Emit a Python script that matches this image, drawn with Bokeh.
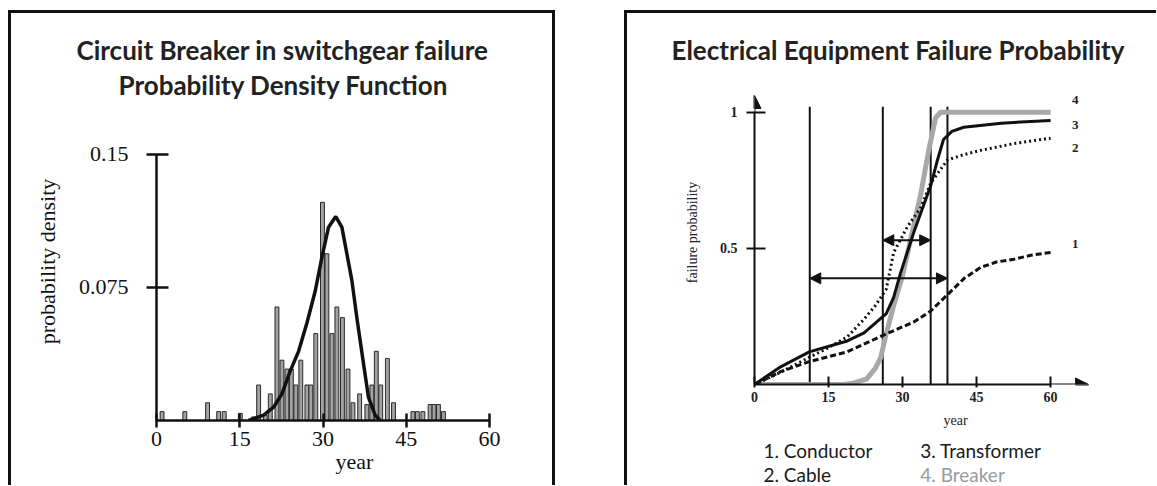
from bokeh.plotting import figure
from bokeh.models import Range1d, FixedTicker, Label, Arrow, NormalHead, Title, Spacer
from bokeh.layouts import row, column
from bokeh.embed import file_html
from bokeh.resources import INLINE

# ---------------- data: left chart (histogram + fitted density) ----------------
hist_year = [1.0, 5.1, 9.2, 11.2, 12.2, 15.1, 17.5, 18.4, 19.6, 20.5, 21.7, 22.6, 23.5, 24.3,
             25.1, 26.0, 27.1, 27.8, 28.7, 29.9, 30.7, 31.6, 32.5, 33.5, 34.5, 35.4, 36.6,
             37.9, 38.8, 39.6, 40.4, 41.6, 42.7, 46.2, 47.0, 48.0, 49.3, 50.0, 50.8, 51.7]
hist_density = [0.005, 0.005, 0.010, 0.005, 0.005, 0.004, 0.002, 0.020, 0.003, 0.015, 0.064,
                0.034, 0.029, 0.029, 0.020, 0.034, 0.020, 0.020, 0.049, 0.123, 0.094, 0.049,
                0.064, 0.058, 0.029, 0.010, 0.015, 0.009, 0.020, 0.039, 0.020, 0.035, 0.010,
                0.005, 0.005, 0.005, 0.009, 0.009, 0.009, 0.005]
pdf_year = [16.6, 19.3, 21.1, 22.6, 24.1, 25.6, 27.1, 28.6, 29.8, 31.0, 32.3, 33.4, 34.3,
            35.2, 36.1, 37.3, 38.2, 39.4, 40.3]
pdf_density = [0.0, 0.003, 0.0075, 0.015, 0.028, 0.039, 0.055, 0.073, 0.092, 0.109, 0.115,
               0.109, 0.094, 0.079, 0.058, 0.032, 0.013, 0.003, 0.0]
left_x_ticks = [0, 15, 30, 45, 60]
left_y_ticks = [0.075, 0.15]
left_y_labels = ["0.075", "0.15"]
left_title = ["Circuit Breaker in switchgear failure", "Probability Density Function"]

# ---------------- data: right chart (failure probability curves) ----------------
conductor_year = [0, 5.3, 11.1, 18.8, 26.7, 32.3, 35.7, 39.1, 42.5, 45.8, 49.0, 52.6, 56.0, 60]
conductor_prob = [0, 0.047, 0.084, 0.12, 0.186, 0.23, 0.27, 0.33, 0.39, 0.43, 0.45, 0.46, 0.475, 0.485]
cable_year = [0, 5.3, 11.1, 15.0, 18.8, 22.2, 24.5, 26.7, 28.2, 31.0, 33.7, 35.7, 39.1, 42.5, 45.8, 52.6, 60]
cable_prob = [0, 0.045, 0.10, 0.135, 0.175, 0.24, 0.29, 0.35, 0.485, 0.58, 0.65, 0.74, 0.825, 0.845, 0.86, 0.885, 0.905]
transformer_year = [0, 5.3, 11.1, 18.8, 22.2, 26.7, 28.2, 29.6, 32.3, 35.7, 37.0, 38.3, 40.0, 42.4, 50.0, 60]
transformer_prob = [0, 0.065, 0.12, 0.16, 0.19, 0.26, 0.32, 0.41, 0.56, 0.73, 0.82, 0.9, 0.93, 0.945, 0.96, 0.97]
breaker_year = [0, 18.0, 20.0, 22.7, 24.5, 25.6, 26.6, 28.2, 30.0, 31.6, 33.7, 35.3, 36.7, 37.7, 60]
breaker_prob = [0, 0, 0.005, 0.02, 0.06, 0.1, 0.18, 0.29, 0.4, 0.53, 0.7, 0.86, 0.98, 1.0, 1.0]
threshold_year = [11.2, 26.0, 35.7, 39.1]
interval_short = [26.0, 35.7, 0.53]   # start year, end year, level
interval_long = [11.2, 39.1, 0.39]
right_x_ticks = [0, 15, 30, 45, 60]
right_y_ticks = [0.5, 1]
right_y_labels = ["0.5", "1"]
right_title = "Electrical Equipment Failure Probability"
legend_items = ["1. Conductor", "2. Cable", "3. Transformer", "4. Breaker"]
curve_tags = ["1", "2", "3", "4"]
curve_tag_y = [0.515, 0.869, 0.953, 1.044]

SERIF = "Liberation Serif"
SANS = "Lato"
INK = "#111111"

shadow_lr = {"box-shadow": "inset 3px 0 0 #111, inset -3px 0 0 #111, inset 0 3px 0 #111"}
shadow_lt = {"box-shadow": "inset 3px 0 0 #111, inset 0 3px 0 #111"}
shadow_l = {"box-shadow": "inset 3px 0 0 #111"}


def clean(p):
    p.grid.visible = False
    p.outline_line_color = None
    p.background_fill_color = None
    p.border_fill_color = None


# ================= left figure =================
p1 = figure(width=547, height=475, x_range=Range1d(0, 71.35), y_range=Range1d(0, 0.1793),
            output_backend="svg", toolbar_location=None,
            min_border_left=148, min_border_right=3, min_border_top=92, min_border_bottom=65,
            styles=shadow_lr)
clean(p1)

p1.vbar(x=hist_year, top=hist_density, width=0.7, bottom=0,
        fill_color="#a2a2a2", line_color="#2a2a2a", line_width=1)
p1.line(pdf_year, pdf_density, line_color=INK, line_width=3.5)

for ax in (p1.xaxis[0], p1.yaxis[0]):
    ax.axis_line_width = 2.5
    ax.axis_line_color = INK
    ax.major_tick_line_width = 2.5
    ax.major_tick_line_color = INK
    ax.minor_tick_line_color = None
    ax.major_label_text_font = SERIF
    ax.major_label_text_font_size = "22px"
    ax.major_label_text_color = INK
    ax.axis_label_text_font = SERIF
    ax.axis_label_text_font_size = "22px"
    ax.axis_label_text_font_style = "normal"
    ax.axis_label_text_color = INK

xa = p1.xaxis[0]
xa.bounds = (0, 60)
xa.ticker = FixedTicker(ticks=left_x_ticks)
xa.major_tick_in = 7
xa.major_tick_out = 7
xa.major_label_standoff = 4
xa.axis_label = "year"
xa.axis_label_standoff = 0

ya = p1.yaxis[0]
ya.bounds = (0, 0.15)
ya.ticker = FixedTicker(ticks=left_y_ticks)
ya.major_label_overrides = dict(zip(left_y_ticks, left_y_labels))
ya.major_tick_in = 12
ya.major_tick_out = 10
ya.major_label_standoff = 18
ya.axis_label = "probability density"
ya.axis_label_standoff = 16

# nearest title first (second line), then the first line above it
p1.add_layout(Title(text=left_title[1], align="left", offset=-38, standoff=3,
                    text_font=SANS, text_font_style="bold", text_font_size="26px",
                    text_color="#222222"), "above")
p1.add_layout(Title(text=left_title[0], align="left", offset=-80, standoff=0,
                    text_font=SANS, text_font_style="bold", text_font_size="26px",
                    text_color="#222222"), "above")

# ================= right figure =================
p2 = figure(width=532, height=420, x_range=Range1d(0, 81.46), y_range=Range1d(0, 1.1168),
            output_backend="svg", toolbar_location=None,
            min_border_left=130, min_border_right=0, min_border_top=70, min_border_bottom=44,
            styles=shadow_lt)
clean(p2)

p2.segment(x0=threshold_year, y0=[0] * len(threshold_year), x1=threshold_year,
           y1=[1.02] * len(threshold_year), line_color=INK, line_width=2)

p2.line(breaker_year, breaker_prob, line_color="#a8a8a8", line_width=5)
p2.line(transformer_year, transformer_prob, line_color=INK, line_width=3)
p2.line(cable_year, cable_prob, line_color=INK, line_width=3, line_dash="2 3")
p2.line(conductor_year, conductor_prob, line_color=INK, line_width=3, line_dash="6 3")

for iv in (interval_short, interval_long):
    p2.add_layout(Arrow(start=NormalHead(size=11, fill_color=INK, line_color=INK),
                        end=NormalHead(size=11, fill_color=INK, line_color=INK),
                        x_start=iv[0], x_end=iv[1], y_start=iv[2], y_end=iv[2],
                        line_color=INK, line_width=2))

for ax in (p2.xaxis[0], p2.yaxis[0]):
    ax.axis_line_width = 2
    ax.axis_line_color = INK
    ax.major_tick_line_width = 2
    ax.major_tick_line_color = INK
    ax.minor_tick_line_color = None
    ax.major_label_text_font = SERIF
    ax.major_label_text_font_size = "14px"
    ax.major_label_text_font_style = "bold"
    ax.major_label_text_color = "#222222"
    ax.axis_label_text_font = SERIF
    ax.axis_label_text_font_size = "14px"
    ax.axis_label_text_font_style = "normal"
    ax.axis_label_text_color = "#222222"

xb = p2.xaxis[0]
xb.bounds = (0, 60)
xb.ticker = FixedTicker(ticks=right_x_ticks)
xb.major_tick_in = 8
xb.major_tick_out = 3
xb.major_label_standoff = 4
xb.axis_label = "year"
xb.axis_label_standoff = 8

yb = p2.yaxis[0]
yb.bounds = (0, 1)
yb.ticker = FixedTicker(ticks=right_y_ticks)
yb.major_label_overrides = dict(zip(right_y_ticks, right_y_labels))
yb.major_tick_in = 11
yb.major_tick_out = 8
yb.major_label_standoff = 9
yb.axis_label = "failure probability"
yb.axis_label_standoff = 17

# axis arrow heads
p2.add_layout(Arrow(end=NormalHead(size=13, fill_color=INK, line_color=INK),
                    x_start=0, y_start=1.0, x_end=0, y_end=1.062, line_color=INK, line_width=2))
p2.add_layout(Arrow(end=NormalHead(size=13, fill_color=INK, line_color=INK),
                    x_start=60, y_start=0, x_end=67.7, y_end=0, line_color=INK, line_width=2))

for t, yy in zip(curve_tags, curve_tag_y):
    p2.add_layout(Label(x=65.0, y=yy, text=t, text_font=SERIF, text_font_style="bold",
                        text_font_size="13px", text_color="#222222",
                        text_align="center", text_baseline="middle"))

p2.add_layout(Title(text=right_title, align="left", offset=-83, standoff=29,
                    text_font=SANS, text_font_style="bold", text_font_size="26px",
                    text_color="#222222"), "above")

# ================= legend strip below the right chart =================
p3 = figure(width=532, height=55, x_range=Range1d(0, 81.46), y_range=Range1d(55, 0),
            output_backend="svg", toolbar_location=None, x_axis_type=None, y_axis_type=None,
            min_border=0, min_border_left=130, min_border_right=0, min_border_top=0,
            min_border_bottom=0, styles=shadow_l)
clean(p3)
leg_pos = [(1.8, 20), (1.8, 44), (33.6, 20), (33.6, 44)]
leg_col = ["#1a1a1a", "#1a1a1a", "#1a1a1a", "#9a9a9a"]
for t, (lx, ly), c in zip(legend_items, leg_pos, leg_col):
    p3.add_layout(Label(x=lx, y=ly, text=t, text_font=SANS, text_font_size="19px",
                        text_color=c, text_align="left", text_baseline="middle"))

layout = column(Spacer(height=10),
                row(Spacer(width=8), p1, Spacer(width=69), column(p2, p3, spacing=0), spacing=0),
                spacing=0)
open("out.html", "w").write(file_html(layout, INLINE))
